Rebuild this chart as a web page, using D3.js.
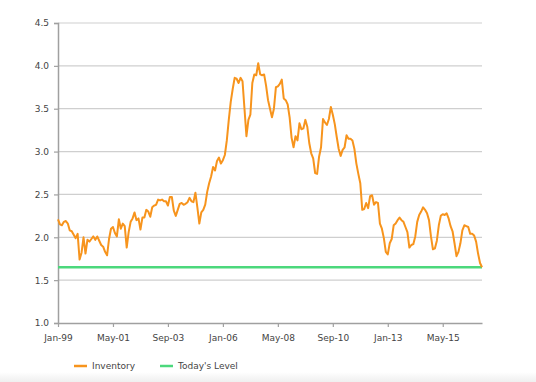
<!DOCTYPE html>
<html>
<head>
<meta charset="utf-8">
<script src="https://cdn.jsdelivr.net/npm/d3@7"></script>
<style>
  html, body { margin: 0; padding: 0; background: #fff; }
  svg { display: block; font-family: "DejaVu Sans", Verdana, sans-serif; }
</style>
</head>
<body>
<svg id="chart" width="536" height="382"></svg>
<script>
// ---- data ----
const startMonth = new Date(1999, 0, 1);
const inventory = [
  2.21, 2.15, 2.14, 2.18, 2.19, 2.16, 2.08, 2.07, 2.03, 1.99,
  2.04, 1.74, 1.82, 2.00, 1.81, 1.97, 1.95, 1.98, 2.01, 1.97,
  2.01, 1.96, 1.91, 1.89, 1.83, 1.79, 1.98, 2.10, 2.12, 2.05,
  2.01, 2.21, 2.10, 2.16, 2.13, 1.88, 2.06, 2.18, 2.22, 2.29,
  2.20, 2.22, 2.09, 2.23, 2.23, 2.32, 2.30, 2.24, 2.35, 2.37,
  2.38, 2.44, 2.43, 2.44, 2.42, 2.42, 2.37, 2.47, 2.47, 2.31,
  2.25, 2.32, 2.39, 2.40, 2.38, 2.39, 2.41, 2.46, 2.42, 2.41,
  2.52, 2.35, 2.16, 2.29, 2.32, 2.38, 2.53, 2.63, 2.71, 2.82,
  2.78, 2.89, 2.93, 2.86, 2.90, 2.96, 3.13, 3.37, 3.58, 3.73,
  3.86, 3.85, 3.80, 3.86, 3.82, 3.50, 3.18, 3.37, 3.43, 3.80,
  3.90, 3.89, 4.03, 3.90, 3.89, 3.90, 3.77, 3.60, 3.50, 3.40,
  3.50, 3.75, 3.76, 3.79, 3.84, 3.62, 3.60, 3.55, 3.40, 3.16,
  3.05, 3.18, 3.13, 3.33, 3.26, 3.27, 3.37, 3.29, 3.10, 2.98,
  2.92, 2.75, 2.74, 2.94, 3.05, 3.38, 3.34, 3.31, 3.38, 3.52,
  3.43, 3.32, 3.17, 3.03, 2.95, 3.02, 3.05, 3.19, 3.15, 3.15,
  3.13, 3.03, 2.86, 2.74, 2.63, 2.32, 2.33, 2.40, 2.34, 2.48,
  2.49, 2.38, 2.41, 2.40, 2.16, 2.10, 1.99, 1.83, 1.80, 1.93,
  1.98, 2.14, 2.16, 2.20, 2.23, 2.20, 2.18, 2.12, 2.06, 1.88,
  1.91, 1.92, 2.01, 2.18, 2.26, 2.30, 2.35, 2.32, 2.28, 2.20,
  2.01, 1.86, 1.87, 1.96, 2.14, 2.25, 2.27, 2.26, 2.28, 2.22,
  2.13, 2.07, 1.93, 1.78, 1.83, 1.93, 2.08, 2.14, 2.13, 2.12,
  2.04, 2.04, 2.02, 1.95, 1.81, 1.70, 1.65
];
const todaysLevel = 1.65;
const xTickLabels = ["Jan-99", "May-01", "Sep-03", "Jan-06", "May-08", "Sep-10", "Jan-13", "May-15"];
const yTicks = [1.0, 1.5, 2.0, 2.5, 3.0, 3.5, 4.0, 4.5];
const seriesNames = ["Inventory", "Today's Level"];
const seriesColors = ["#f7941d", "#4cd87c"];

// categories (month labels)
const fmt = d3.timeFormat("%b-%y");
const categories = inventory.map((v, i) => fmt(d3.timeMonth.offset(startMonth, i)));

// ---- layout ----
const svg = d3.select("#chart");
const M = { left: 58, right: 482, top: 23, bottom: 323 };

const x = d3.scaleLinear().domain([0, categories.length - 1]).range([M.left, M.right]);
const y = d3.scaleLinear().domain([1.0, 4.5]).range([M.bottom, M.top]);

// bottom shade
const defs = svg.append("defs");
const grad = defs.append("linearGradient").attr("id", "shade").attr("x1", 0).attr("y1", 0).attr("x2", 0).attr("y2", 1);
grad.append("stop").attr("offset", "0%").attr("stop-color", "#ffffff");
grad.append("stop").attr("offset", "100%").attr("stop-color", "#efefef");
svg.append("rect").attr("x", 0).attr("y", 372).attr("width", 536).attr("height", 10).attr("fill", "url(#shade)");

// gridlines
svg.append("g").selectAll("line").data(yTicks.slice(1)).join("line")
  .attr("x1", M.left).attr("x2", M.right)
  .attr("y1", d => y(d)).attr("y2", d => y(d))
  .attr("stroke", "#cfcfcf").attr("stroke-width", 1.2);

// y axis
const yAxis = d3.axisLeft(y).tickValues(yTicks).tickFormat(d3.format(".1f")).tickSize(4).tickPadding(5);
const gy = svg.append("g").attr("transform", `translate(${M.left},0)`).call(yAxis);
gy.select(".domain").attr("stroke", "#a0a0a0").attr("stroke-width", 1.5);
gy.selectAll(".tick line").attr("stroke", "#a0a0a0").attr("stroke-width", 1.2);
gy.selectAll(".tick text").attr("fill", "#444").style("font-size", "9px").style("font-family", "'DejaVu Sans', sans-serif");

// x axis
const tickIdx = xTickLabels.map(l => categories.indexOf(l));
const xAxis = d3.axisBottom(x).tickValues(tickIdx).tickFormat((d, i) => xTickLabels[i]).tickSize(4).tickSizeOuter(0).tickPadding(8);
const gx = svg.append("g").attr("transform", `translate(0,${M.bottom})`).call(xAxis);
gx.select(".domain").attr("stroke", "#a0a0a0").attr("stroke-width", 1.5);
gx.selectAll(".tick line").attr("stroke", "#a0a0a0").attr("stroke-width", 1.2);
gx.selectAll(".tick text").attr("fill", "#444").style("font-size", "9px").style("font-family", "'DejaVu Sans', sans-serif");

// today's level line
svg.append("line")
  .attr("x1", x(0)).attr("x2", x(categories.length - 1))
  .attr("y1", y(todaysLevel)).attr("y2", y(todaysLevel))
  .attr("stroke", seriesColors[1]).attr("stroke-width", 2.5);

// inventory line
const line = d3.line().x((d, i) => x(i)).y(d => y(d));
svg.append("path").datum(inventory)
  .attr("d", line)
  .attr("fill", "none")
  .attr("stroke", seriesColors[0])
  .attr("stroke-width", 2)
  .attr("stroke-linejoin", "round");

// legend
const legendX = [74, 160];
const lg = svg.append("g");
seriesNames.forEach((name, i) => {
  lg.append("line")
    .attr("x1", legendX[i]).attr("x2", legendX[i] + 13)
    .attr("y1", 366).attr("y2", 366)
    .attr("stroke", seriesColors[i]).attr("stroke-width", 2.5);
  lg.append("text")
    .attr("x", legendX[i] + 18).attr("y", 369)
    .attr("fill", "#444").style("font-size", "9px")
    .text(name);
});
</script>
</body>
</html>
